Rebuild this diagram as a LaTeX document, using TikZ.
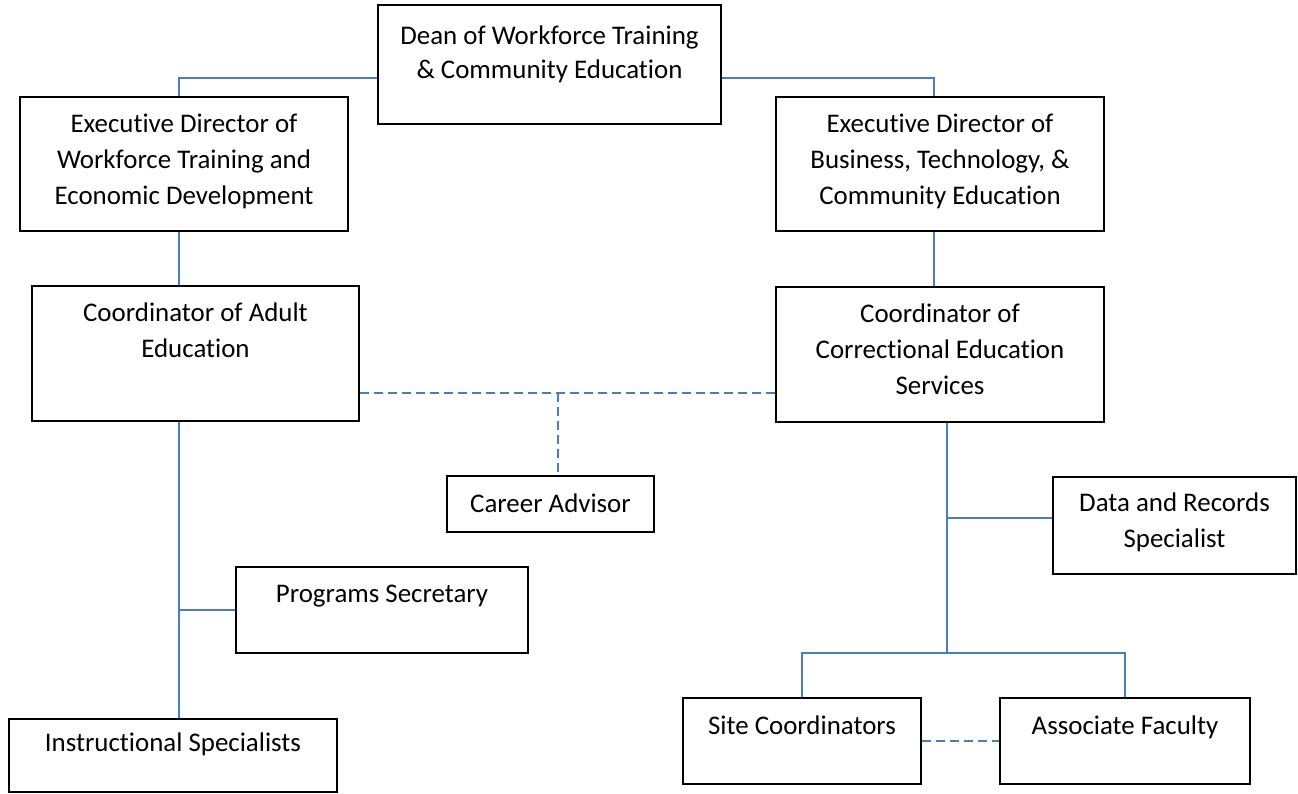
\documentclass[tikz,border=0pt]{standalone}
\usepackage{fontspec}
\setmainfont{Carlito}[Ligatures=NoCommon]
\definecolor{connblue}{RGB}{74,126,187}
\newcommand{\ml}[1]{\begin{tabular}[t]{@{}c@{}}#1\end{tabular}}
\begin{document}
\begin{tikzpicture}[x=1pt,y=-1pt,
  box/.style={draw=black, line width=1.6pt, inner sep=0pt, align=center,
    font=\fontsize{26.9}{36}\selectfont},
  conn/.style={draw=connblue, line width=1.5pt},
  dconn/.style={draw=connblue, line width=1.5pt, dash pattern=on 9pt off 5pt}]
\useasboundingbox (0,0) rectangle (1298,793);
% boxes
\node[box, minimum width=343pt, text height=39pt, text depth=80pt,
  font=\fontsize{26.9}{34}\selectfont] (dean) at (549.5,64.5)
  {\ml{Dean of Workforce Training\\ \& Community Education}};
\node[box, minimum width=328pt, text height=35pt, text depth=99pt] (execL) at (184,164)
  {\ml{Executive Director of\\ Workforce Training and\\ Economic Development}};
\node[box, minimum width=328pt, text height=35pt, text depth=99pt] (execR) at (940,164)
  {\ml{Executive Director of\\ Business, Technology, \&\\ Community Education}};
\node[box, minimum width=327pt, text height=35pt, text depth=100pt] (coordA) at (195.5,353.5)
  {\ml{Coordinator of Adult\\ Education}};
\node[box, minimum width=328pt, text height=35pt, text depth=100pt] (coordC) at (940,354.5)
  {\ml{Coordinator of\\ Correctional Education\\ Services}};
\node[box, minimum width=207pt, text height=36pt, text depth=20pt] (career) at (550.5,504)
  {\ml{Career Advisor}};
\node[box, minimum width=243pt, text height=34pt, text depth=63pt] (data) at (1174.5,525.5)
  {\ml{Data and Records\\ Specialist}};
\node[box, minimum width=292pt, text height=35pt, text depth=51pt] (prog) at (382,610)
  {\ml{Programs Secretary}};
\node[box, minimum width=328pt, text height=32pt, text depth=41pt] (instr) at (173,755.5)
  {\ml{Instructional Specialists}};
\node[box, minimum width=238pt, text height=36pt, text depth=50pt] (site) at (802,741)
  {\ml{Site Coordinators}};
\node[box, minimum width=250pt, text height=36pt, text depth=50pt] (assoc) at (1125,741)
  {\ml{Associate Faculty}};
% junction coordinates
\coordinate (jDA) at (558,393);
\coordinate (jProg) at (179,610);
\coordinate (jData) at (947,518);
\coordinate (jBar) at (947,653);
% connectors
\draw[conn] (dean.west |- 0,78) -| (execL.north -| 179,0);
\draw[conn] (dean.east |- 0,78) -| (execR.north -| 934,0);
\draw[conn] (execL.south -| 179,0) -- (coordA.north -| 179,0);
\draw[conn] (execR.south -| 934,0) -- (coordC.north -| 934,0);
\draw[conn] (coordA.south -| 179,0) -- (instr.north -| 179,0);
\draw[conn] (jProg) -- (prog.west);
\draw[conn] (coordC.south -| 947,0) -- (jBar);
\draw[conn] (jData) -- (data.west |- jData);
\draw[conn] (site.north) |- (jBar) -| (assoc.north);
\draw[dconn] (coordA.east |- jDA) -- (coordC.west |- jDA);
\draw[dconn] (jDA) -- (career.north -| jDA);
\draw[dconn] (site.east) -- (assoc.west);
\end{tikzpicture}
\end{document}
